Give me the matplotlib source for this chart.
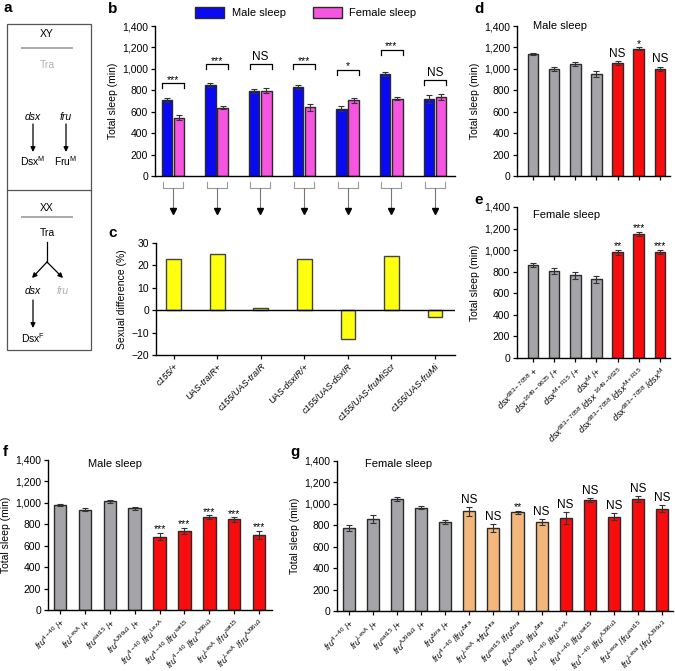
import matplotlib
matplotlib.use('Agg')
import matplotlib.pyplot as plt
import matplotlib.transforms as mtransforms
from matplotlib.ticker import FuncFormatter

plt.rcParams['font.family'] = ['Liberation Sans', 'DejaVu Sans']
plt.rcParams['mathtext.fontset'] = 'custom'
plt.rcParams['mathtext.rm'] = 'Liberation Sans'
plt.rcParams['mathtext.it'] = 'Liberation Sans:italic'
plt.rcParams['mathtext.bf'] = 'Liberation Sans:bold'
plt.rcParams['mathtext.sf'] = 'Liberation Sans'

# ---- data ----
b_groups = ['c155/+', 'UAS-traIR+', 'c155/UAS-traIR', 'UAS-dsxIR/+',
            'c155/UAS-dsxIR', 'c155/UAS-fruMiScr', 'c155/UAS-fruMi']
b_male = [710, 850, 790, 830, 628, 950, 718]
b_male_err = [20, 15, 18, 22, 25, 18, 35]
b_female = [545, 638, 795, 643, 708, 722, 738]
b_female_err = [25, 15, 22, 32, 22, 15, 25]
b_sig = ['***', '***', 'NS', '***', '*', '***', 'NS']

c_diff = [23, 25, 1, 23, -13, 24, -3]

d_values = [1140, 1000, 1045, 955, 1055, 1190, 1000]
d_err = [12, 18, 22, 28, 22, 10, 22]
d_sig = ['', '', '', '', 'NS', '*', 'NS']

e_values = [862, 808, 768, 730, 980, 1150, 985]
e_err = [22, 28, 32, 30, 22, 18, 18]
e_sig = ['', '', '', '', '**', '***', '***']
de_labels = [r'$dsx^{\mathrm{683-7058}}$ +',
             r'$dsx^{\mathrm{1649-9625}}$ /+',
             r'$dsx^{\mathrm{M+R15}}$ /+',
             r'$dsx^{\mathrm{M}}$ /+',
             r'$dsx^{\mathrm{683-7058}}$ /$dsx^{\mathrm{\ 1649-9625}}$',
             r'$dsx^{\mathrm{683-7058}}$ /$dsx^{\mathrm{M+R15}}$',
             r'$dsx^{\mathrm{683-7058}}$ /$dsx^{\mathrm{M}}$']
de_kind = ['ctrl'] * 4 + ['mut'] * 3

f_values = [980, 938, 1015, 950, 685, 740, 865, 845, 700]
f_err = [12, 15, 12, 15, 35, 30, 18, 20, 40]
f_sig = ['', '', '', '', '***', '***', '***', '***', '***']
f_labels = [r'$fru^{\mathrm{4-40}}$ /+', r'$fru^{\mathrm{LexA}}$ /+',
            r'$fru^{\mathrm{sat15}}$ /+', r'$fru^{\mathrm{AJ96u3}}$ /+',
            r'$fru^{\mathrm{4-40}}$ /$fru^{\mathrm{LexA}}$',
            r'$fru^{\mathrm{4-40}}$ /$fru^{\mathrm{sat15}}$',
            r'$fru^{\mathrm{4-40}}$ /$fru^{\mathrm{AJ96u3}}$',
            r'$fru^{\mathrm{LexA}}$ /$fru^{\mathrm{sat15}}$',
            r'$fru^{\mathrm{LexA}}$ /$fru^{\mathrm{AJ96u3}}$']
f_kind = ['ctrl'] * 4 + ['mut'] * 5

g_values = [775, 860, 1045, 965, 830, 930, 775, 922, 830,
            870, 1038, 882, 1045, 955]
g_err = [25, 35, 15, 15, 20, 40, 35, 15, 25, 55, 18, 30, 28, 30]
g_sig = ['', '', '', '', '', 'NS', 'NS', '**', 'NS',
         'NS', 'NS', 'NS', 'NS', 'NS']
g_labels = [r'$fru^{\mathrm{4-40}}$ /+', r'$fru^{\mathrm{LexA}}$ /+',
            r'$fru^{\mathrm{sat15}}$ /+', r'$fru^{\mathrm{AJ96u3}}$ /+',
            r'$fru^{\mathrm{\Delta tra}}$ /+',
            r'$fru^{\mathrm{4-40}}$ /$fru^{\mathrm{\Delta tra}}$',
            r'$fru^{\mathrm{LexA}}$ +$fru^{\mathrm{\Delta tra}}$',
            r'$fru^{\mathrm{sat15}}$ /$fru^{\mathrm{\Delta tra}}$',
            r'$fru^{\mathrm{AJ96u3}}$ /$fru^{\mathrm{\Delta tra}}$',
            r'$fru^{\mathrm{4-40}}$ /$fru^{\mathrm{LexA}}$',
            r'$fru^{\mathrm{4-40}}$ /$fru^{\mathrm{sat15}}$',
            r'$fru^{\mathrm{4-40}}$ /$fru^{\mathrm{AJ96u3}}$',
            r'$fru^{\mathrm{Lexa}}$ /$fru^{\mathrm{sat15}}$',
            r'$fru^{\mathrm{Lexa}}$ /$fru^{\mathrm{AJ96u3}}$']
g_kind = ['ctrl'] * 5 + ['tra'] * 4 + ['mut'] * 5

# ---- style ----
BLUE = '#0a0af2'
PINK = '#f655e0'
GRAY = '#a4a4a9'
RED = '#f70d0d'
ORANGE = '#f3b77c'
YELLOW = '#ffff10'
EDGE = '#2a2a2a'
ERR = '#333333'
KIND_COLORS = {'ctrl': GRAY, 'mut': RED, 'tra': ORANGE}

W, H = 675, 671


def rect(l, t, r, b):
    return [l / W, 1 - b / H, (r - l) / W, (b - t) / H]


def thousands(v, pos):
    return f'{int(v):,}'


def style_axes(ax):
    for s in ['top', 'right']:
        ax.spines[s].set_visible(False)
    for s in ['left', 'bottom']:
        ax.spines[s].set_linewidth(1.0)
    ax.tick_params(direction='out', length=3, width=0.9, labelsize=7.5, pad=2)


def sleep_axes(ax):
    style_axes(ax)
    ax.set_ylim(0, 1400)
    ax.set_yticks(range(0, 1401, 200))
    ax.yaxis.set_major_formatter(FuncFormatter(thousands))
    ax.set_ylabel('Total sleep (min)', fontsize=7.5, labelpad=3)


def annotate_sig(ax, xs, tops, sigs):
    for x, top, s in zip(xs, tops, sigs):
        if not s:
            continue
        if s == 'NS':
            ax.text(x, top + 38, s, ha='center', va='baseline', fontsize=8.5)
        else:
            ax.text(x, top + 5, s, ha='center', va='baseline', fontsize=7.5)


def sleep_panel(ax, values, err, kinds, sigs, labels, title, title_xy,
                label_size=6.3):
    xs = list(range(len(values)))
    ax.bar(xs, values, width=0.5, color=[KIND_COLORS[k] for k in kinds],
           edgecolor=EDGE, linewidth=1.0, zorder=2)
    ax.errorbar(xs, values, yerr=err, fmt='none', ecolor=ERR, elinewidth=0.8,
                capsize=2.5, capthick=0.8, zorder=3)
    sleep_axes(ax)
    ax.set_xticks(xs)
    if labels is None:
        ax.set_xticklabels([])
    else:
        ax.set_xticklabels(labels, rotation=45, ha='right',
                           rotation_mode='anchor', fontsize=label_size)
    annotate_sig(ax, xs, [v + e for v, e in zip(values, err)], sigs)
    ax.text(title_xy[0], title_xy[1], title, transform=ax.transAxes,
            ha='left', va='center', fontsize=8)


fig = plt.figure(figsize=(6.75, 6.71), dpi=100)

# overlay in pixel coordinates for schematic and panel letters
ov = fig.add_axes([0, 0, 1, 1])
ov.set_xlim(0, W)
ov.set_ylim(H, 0)
ov.axis('off')
ov.patch.set_visible(False)

# ---- panel a (schematic) ----
ov.add_patch(plt.Rectangle((7, 24), 84, 326, fill=False, ec='#555555', lw=0.9))
ov.plot([7, 91], [190, 190], color='#555555', lw=0.9)
ov.text(47, 34, 'XY', ha='center', va='center', fontsize=7.5)
ov.plot([22, 72], [48, 48], color='#aaaaaa', lw=1.4)
ov.text(47, 65, 'Tra', ha='center', va='center', fontsize=7.5, color='#b0b0b0')
ov.text(33, 117, 'dsx', ha='center', va='center', fontsize=7.5, style='italic')
ov.text(66, 117, 'fru', ha='center', va='center', fontsize=7.5, style='italic')
arrow = dict(arrowstyle='-|>', color='black', lw=0.9, mutation_scale=7,
             shrinkA=0, shrinkB=0)
ov.annotate('', xy=(33, 152), xytext=(33, 124), arrowprops=arrow)
ov.annotate('', xy=(66, 152), xytext=(66, 124), arrowprops=arrow)
ov.text(33, 161, r'Dsx$^{\mathrm{M}}$', ha='center', va='center', fontsize=7.5)
ov.text(66, 161, r'Fru$^{\mathrm{M}}$', ha='center', va='center', fontsize=7.5)
ov.text(47, 208, 'XX', ha='center', va='center', fontsize=7.5)
ov.plot([22, 72], [217, 217], color='#aaaaaa', lw=1.4)
ov.text(47, 233, 'Tra', ha='center', va='center', fontsize=7.5)
ov.plot([47, 47], [242, 262], color='black', lw=0.9)
ov.annotate('', xy=(32, 278), xytext=(47, 262), arrowprops=arrow)
ov.annotate('', xy=(63, 278), xytext=(47, 262), arrowprops=arrow)
ov.text(33, 291, 'dsx', ha='center', va='center', fontsize=7.5, style='italic')
ov.text(63, 291, 'fru', ha='center', va='center', fontsize=7.5,
        style='italic', color='#b0b0b0')
ov.annotate('', xy=(33, 328), xytext=(33, 300), arrowprops=arrow)
ov.text(33, 338, r'Dsx$^{\mathrm{F}}$', ha='center', va='center', fontsize=7.5)

for letter, (px, py) in {'a': (3, 8), 'b': (108, 9), 'c': (108, 233),
                         'd': (474, 9), 'e': (474, 200), 'f': (3, 452),
                         'g': (290, 452)}.items():
    ov.text(px, py, letter, ha='left', va='center', fontsize=11,
            fontweight='bold')

# ---- panel b ----
axb = fig.add_axes(rect(155, 26, 455, 176))
xs = list(range(len(b_groups)))
off = 0.14
bw = 0.24
bm = axb.bar([x - off for x in xs], b_male, width=bw, color=BLUE,
             edgecolor=EDGE, linewidth=1.0, zorder=2, label='Male sleep')
bf = axb.bar([x + off for x in xs], b_female, width=bw, color=PINK,
             edgecolor=EDGE, linewidth=1.0, zorder=2, label='Female sleep')
axb.errorbar([x - off for x in xs], b_male, yerr=b_male_err, fmt='none',
             ecolor=ERR, elinewidth=0.8, capsize=2.2, capthick=0.8, zorder=3)
axb.errorbar([x + off for x in xs], b_female, yerr=b_female_err, fmt='none',
             ecolor=ERR, elinewidth=0.8, capsize=2.2, capthick=0.8, zorder=3)
sleep_axes(axb)
axb.set_xlim(-0.41, 6.46)
axb.set_xticks([])

bracket_y = [865, 1042, 1042, 1042, 990, 1176, 896]
for x, y, s in zip(xs, bracket_y, b_sig):
    axb.plot([x - 0.24, x - 0.24, x + 0.26, x + 0.26], [y - 45, y, y, y - 45],
             color='black', lw=0.9)
    if s == 'NS':
        axb.text(x, y + 40, s, ha='center', va='baseline', fontsize=8.5)
    else:
        axb.text(x, y + 5, s, ha='center', va='baseline', fontsize=7.5)

# connectors from b to c
tb = mtransforms.blended_transform_factory(axb.transData, axb.transAxes)
for x in xs:
    axb.plot([x - 0.23, x - 0.23, x + 0.23, x + 0.23], [-0.04, -0.08, -0.08, -0.04],
             color='#999999', lw=0.8, transform=tb, clip_on=False)
    axb.plot([x, x], [-0.08, -0.225], color='#777777', lw=0.8,
             transform=tb, clip_on=False)
    axb.plot([x], [-0.235], marker='v', color='black', markersize=5,
             transform=tb, clip_on=False)

fig.legend(handles=[bm, bf], labels=['Male sleep', 'Female sleep'],
           ncol=2, loc='center', bbox_to_anchor=(306 / W, 1 - 12.5 / H),
           frameon=False, fontsize=8, handlelength=2.6, handleheight=1.2,
           handletextpad=0.7, columnspacing=2.4)

# ---- panel c ----
axc = fig.add_axes(rect(156, 243, 455, 355))
axc.bar(xs, c_diff, width=0.34, color=YELLOW, edgecolor='#444444',
        linewidth=1.0, zorder=2)
style_axes(axc)
axc.axhline(0, color='black', lw=1.0, zorder=3)
axc.set_ylim(-20, 30)
axc.set_yticks(range(-20, 31, 10))
axc.yaxis.set_major_formatter(FuncFormatter(lambda v, p: f'{int(v)}'.replace('-', '\u2212')))
axc.set_xlim(-0.41, 6.46)
axc.set_xticks(xs)
axc.set_xticklabels(b_groups, rotation=45, ha='right', rotation_mode='anchor',
                    fontsize=6.5, style='italic')
axc.set_ylabel('Sexual difference (%)', fontsize=7.5, labelpad=3)

# ---- panel d ----
axd = fig.add_axes(rect(517, 26, 670, 176))
sleep_panel(axd, d_values, d_err, de_kind, d_sig, None, 'Male sleep',
            (0.105, 1.0))
axd.set_xlim(-0.76, 6.48)

# ---- panel e ----
axe = fig.add_axes(rect(517, 207, 670, 358))
sleep_panel(axe, e_values, e_err, de_kind, e_sig, de_labels, 'Female sleep',
            (0.105, 0.947), label_size=6.5)
axe.set_xlim(-0.76, 6.48)

# ---- panel f ----
axf = fig.add_axes(rect(48, 460, 272, 610))
sleep_panel(axf, f_values, f_err, f_kind, f_sig, f_labels, 'Male sleep',
            (0.18, 0.973))
axf.set_xlim(-0.48, 8.52)

# ---- panel g ----
axg = fig.add_axes(rect(337, 461, 673, 611))
sleep_panel(axg, g_values, g_err, g_kind, g_sig, g_labels, 'Female sleep',
            (0.083, 0.98))
axg.set_xlim(-0.5, 13.46)

fig.savefig('out.png', dpi=100)
